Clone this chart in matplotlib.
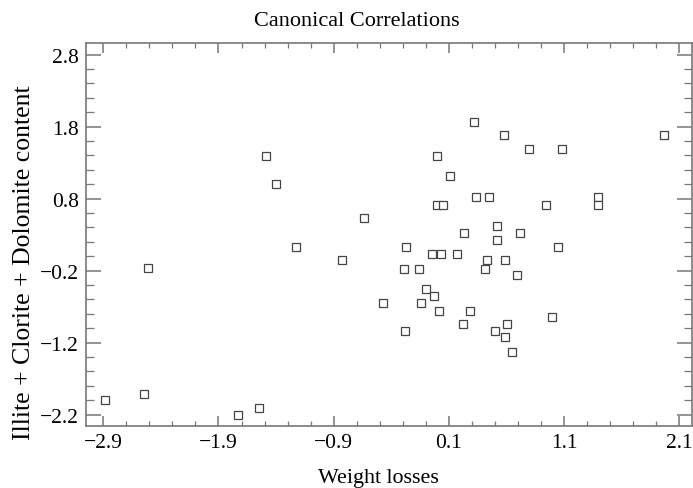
import matplotlib
matplotlib.use("Agg")
import matplotlib.pyplot as plt
from matplotlib.ticker import FixedLocator

weight_losses = [-2.885, -2.544, -2.515, -1.728, -1.548, -1.488, -1.401, -1.227, -0.825, -0.637,
                 -0.475, -0.29, -0.272, -0.278, -0.16, -0.145, -0.096, -0.044, -0.027, 0.0,
                 0.0, 0.052, 0.029, 0.011, 0.108, 0.170, 0.225, 0.234, 0.283, 0.321,
                 0.338, 0.413, 0.431, 0.445, 0.50, 0.52, 0.52, 0.581, 0.584, 0.59,
                 0.607, 0.648, 0.689, 0.717, 0.798, 0.94, 0.995, 1.05, 1.084, 1.397,
                 1.397, 1.97]
clay_content = [-2.0, -1.911, -0.17, -2.203, -2.11, 1.386, 1.006, 0.126, -0.058, 0.529,
                -0.647, -0.174, 0.126, -1.036, -0.174, -0.647, -0.457, 0.034, -0.554, 1.386,
                0.714, 0.714, 0.034, -0.758, 1.117, 0.034, -0.938, 0.325, -0.758, 1.86,
                0.817, -0.174, -0.058, 0.817, -1.036, 0.414, 0.228, 1.682, -0.058, -1.124,
                -0.938, -1.328, -0.263, 0.325, 1.483, 0.714, -0.85, 0.126, 1.483, 0.817,
                0.714, 1.682]

x_ticks = [-2.9, -1.9, -0.9, 0.1, 1.1, 2.1]
y_ticks = [-2.2, -1.2, -0.2, 0.8, 1.8, 2.8]
x_tick_labels = ["\u22122.9", "\u22121.9", "\u22120.9", "0.1", "1.1", "2.1"]
y_tick_labels = ["\u22122.2", "\u22121.2", "\u22120.2", "0.8", "1.8", "2.8"]

plt.rcParams['font.family'] = ['Liberation Serif', 'DejaVu Serif']

W, H = 693, 489
fig = plt.figure(figsize=(W / 100, H / 100), dpi=100)
ax = fig.add_axes([86 / W, 1 - 426.7 / H, (692 - 86) / W, (426.7 - 44) / H])

ax.plot(weight_losses, clay_content, linestyle='none', marker='s', markersize=5.2,
        markerfacecolor='white', markeredgecolor='#444444', markeredgewidth=0.9)

ax.set_xlim(-3.05, 2.21)
ax.set_ylim(-2.353, 2.96)

ax.xaxis.set_major_locator(FixedLocator(x_ticks))
ax.yaxis.set_major_locator(FixedLocator(y_ticks))
ax.set_xticklabels(x_tick_labels)
ax.set_yticklabels(y_tick_labels)
minor_x = [round(-3.1 + 0.2 * i, 2) for i in range(28)]
minor_y = [round(-2.4 + 0.2 * i, 2) for i in range(28)]
ax.xaxis.set_minor_locator(FixedLocator(minor_x))
ax.yaxis.set_minor_locator(FixedLocator(minor_y))

for s in ax.spines.values():
    s.set_color('#777777')
    s.set_linewidth(1.2)

ax.tick_params(axis='both', which='both', direction='in', colors='#777777',
               top=True, right=True, labelcolor='black', labelsize=15.5)
ax.tick_params(axis='x', which='major', length=7, width=1.1, pad=5)
ax.tick_params(axis='x', which='minor', length=3.5, width=0.9)
ax.tick_params(axis='y', which='major', length=11, width=1.1, pad=5)
ax.tick_params(axis='y', which='minor', length=6, width=0.9)

fig.text(357 / W, 1 - 22 / H, "Canonical Correlations", fontsize=16, ha='center', va='center')
ax.set_xlabel("Weight losses", fontsize=15.8)
ax.xaxis.set_label_coords((378 - 86) / 606, (426.7 - 479) / (426.7 - 44))
ax.set_ylabel("Illite + Clorite + Dolomite content", fontsize=18.5)
ax.yaxis.set_label_coords((24 - 86) / 606, (426.7 - 263) / (426.7 - 44))
ax.xaxis.label.set_va('center')
ax.yaxis.label.set_va('center')

fig.savefig("out.png", dpi=100)
